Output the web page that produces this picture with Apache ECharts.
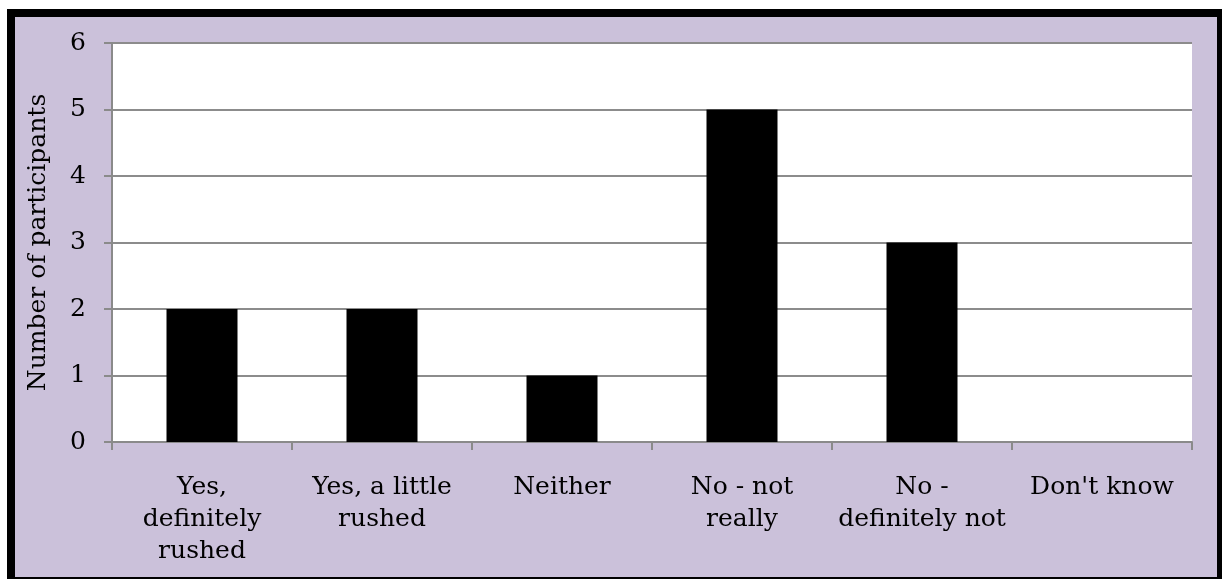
<!DOCTYPE html>
<html>
<head>
<meta charset="utf-8">
<script src="https://cdn.jsdelivr.net/npm/echarts@6/dist/echarts.min.js"></script>
<style>
  html, body { margin: 0; padding: 0; background: #fff; }
  .frame {
    position: absolute; left: 7px; top: 9px;
    width: 1202px; height: 560px;
    border-left: 8px solid #000; border-top: 8px solid #000;
    border-right: 5px solid #000; border-bottom: 3px solid #000;
    background: #cbc1da;
  }
  #chart { width: 1202px; height: 560px; }
</style>
</head>
<body>
<div class="frame"><div id="chart"></div></div>
<script>
  // 分类与数值
  var categories = ['Yes,\ndefinitely\nrushed', 'Yes, a little\nrushed', 'Neither', 'No - not\nreally', 'No -\ndefinitely not', "Don't know"];
  var counts = [2, 2, 1, 5, 3, 0];
  var yTicks = { min: 0, max: 6, interval: 1 };

  var font = '"DejaVu Serif", "Liberation Serif", serif';
  var chart = echarts.init(document.getElementById('chart'));

  var option = {
    backgroundColor: '#cbc1da',
    animation: false,
    grid: {
      left: 97, top: 26, right: 25, bottom: 135,
      show: true, backgroundColor: '#fff', borderWidth: 0
    },
    xAxis: {
      type: 'category',
      data: categories,
      axisLine: { show: true, lineStyle: { color: '#8a8a8a', width: 2 } },
      axisTick: { show: true, length: 8, lineStyle: { color: '#8a8a8a', width: 2 } },
      axisLabel: {
        interval: 0, color: '#000', fontFamily: font, fontSize: 25,
        lineHeight: 32, margin: 29
      }
    },
    yAxis: {
      type: 'value',
      min: yTicks.min, max: yTicks.max, interval: yTicks.interval,
      name: 'Number of participants',
      nameLocation: 'middle',
      nameGap: 61,
      nameTextStyle: { color: '#000', fontFamily: font, fontSize: 25 },
      axisLine: { show: true, lineStyle: { color: '#8a8a8a', width: 2 } },
      axisTick: { show: true, length: 8, lineStyle: { color: '#8a8a8a', width: 2 } },
      axisLabel: { color: '#000', fontFamily: font, fontSize: 25, margin: 26 },
      splitLine: { lineStyle: { color: '#8c8c8c', width: 2 } }
    },
    series: [{
      type: 'bar',
      data: counts,
      barWidth: 71,
      itemStyle: { color: '#000' }
    }]
  };

  chart.setOption(option);
</script>
</body>
</html>
